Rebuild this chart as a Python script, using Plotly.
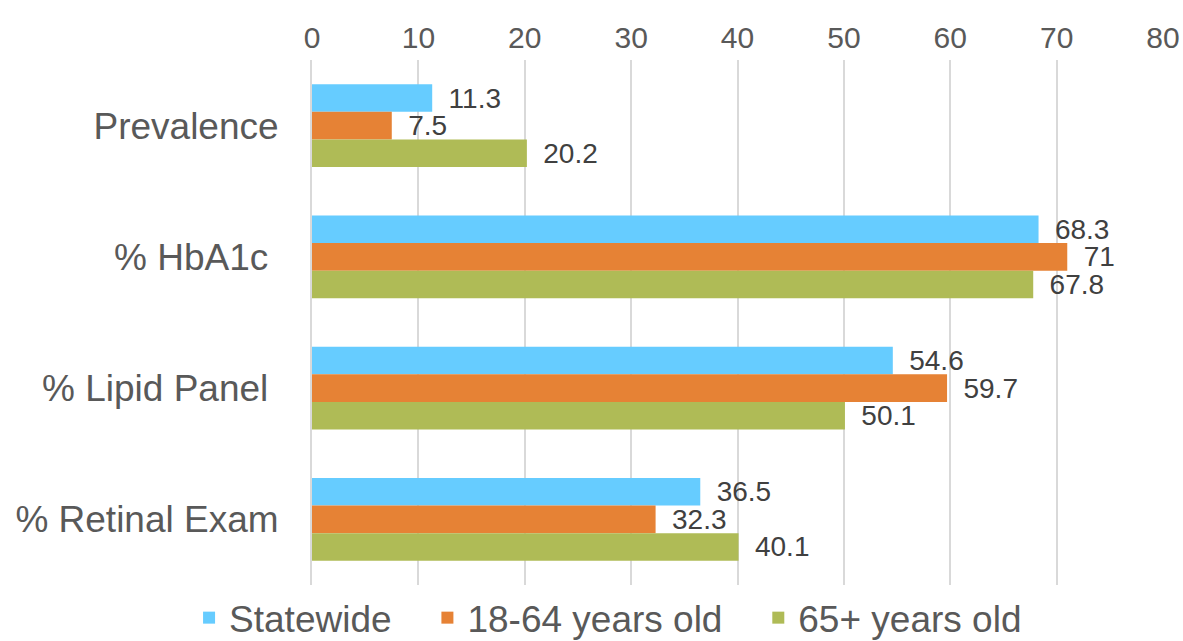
import plotly.graph_objects as go

categories = ["Prevalence", "% HbA1c ", "% Lipid Panel ", "% Retinal Exam"]
series_names = ["Statewide", "18-64 years old", "65+ years old"]
statewide = [11.3, 68.3, 54.6, 36.5]
age_18_64 = [7.5, 71, 59.7, 32.3]
age_65_plus = [20.2, 67.8, 50.1, 40.1]
x_ticks = [0, 10, 20, 30, 40, 50, 60, 70, 80]

colors = ["#66CCFF", "#E68235", "#AFBB56"]
values = [statewide, age_18_64, age_65_plus]
legend_pad = ["\u00a0\u00a0\u00a0", "\u00a0\u00a0\u00a0", ""]

fig = go.Figure()
for name, vals, col, pad in zip(series_names, values, colors, legend_pad):
    fig.add_trace(go.Bar(
        y=categories, x=vals, name=name + pad, orientation="h",
        marker=dict(color=col, line=dict(width=0)),
        text=["\u00a0\u2009" + f"{v:g}" for v in vals], textposition="outside",
        constraintext="none",
        textfont=dict(size=28, color="#404040", family="Liberation Sans, Arial"),
        cliponaxis=False,
    ))

fig.update_layout(
    width=1183, height=641,
    margin=dict(l=312, r=20, t=60, b=56, autoexpand=False),
    paper_bgcolor="white", plot_bgcolor="white",
    barmode="group", bargap=0.37, bargroupgap=0,
    font=dict(family="Liberation Sans, Arial", color="#595959"),
    showlegend=True,
    legend=dict(orientation="h", xref="container", x=0.514, xanchor="center",
                y=-0.004, yanchor="top",
                font=dict(size=37, color="#595959"), traceorder="normal",
                itemwidth=30),
    uniformtext=dict(mode=False),
)
fig.update_xaxes(
    side="top", range=[0, 80], tickvals=x_ticks, ticktext=[str(t) for t in x_ticks],
    showgrid=True, gridcolor="#D9D9D9", gridwidth=2, zeroline=False,
    showline=False, tickfont=dict(size=30, color="#595959"),
    ticks="", ticklabelstandoff=5,
)
fig.update_yaxes(
    categoryorder="array", categoryarray=categories, autorange="reversed",
    showgrid=False, zeroline=False, showline=True, linecolor="#D9D9D9", linewidth=2,
    tickfont=dict(size=37, color="#595959"), ticks="", ticklabelstandoff=24,
)

fig.write_html("out.html")
